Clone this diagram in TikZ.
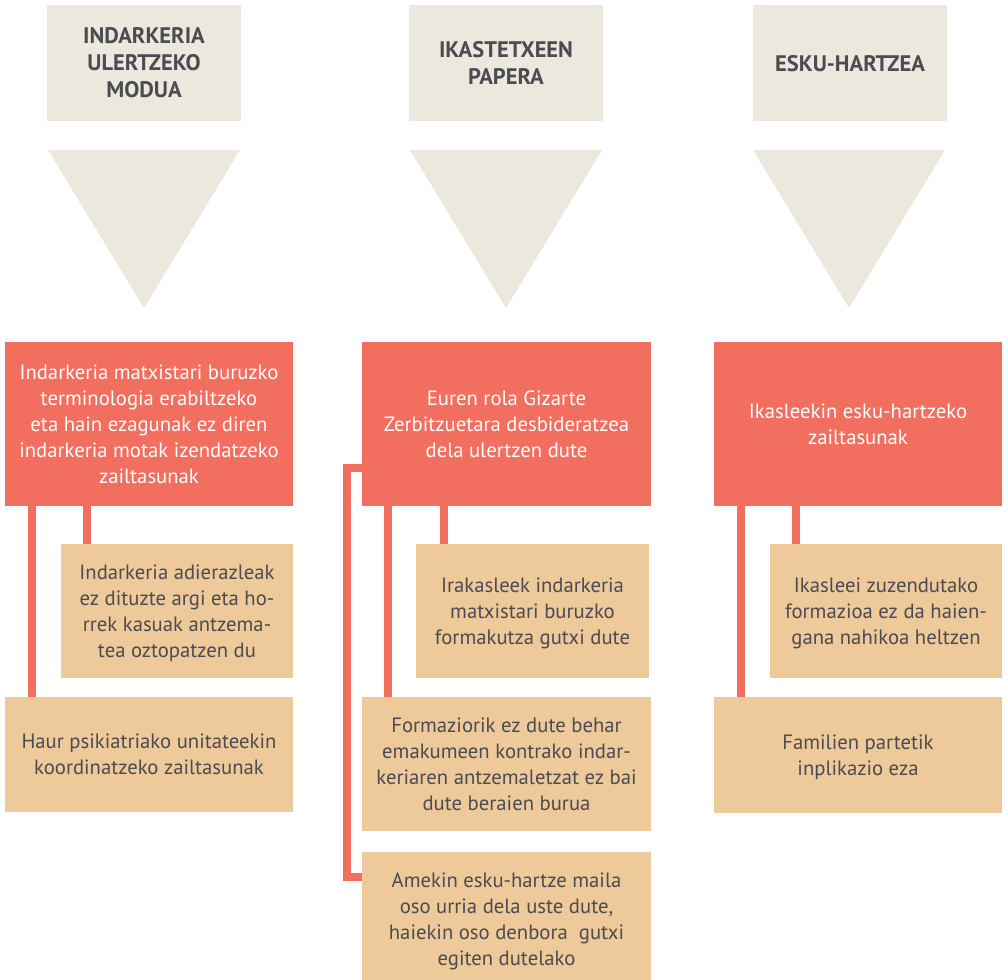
\documentclass[tikz,border=0pt]{standalone}
\usepackage{fontspec}
\setmainfont{PT Sans}
\definecolor{beige}{HTML}{EDE8DE}
\definecolor{coral}{HTML}{F26E5E}
\definecolor{sandC}{HTML}{EEC999}
\definecolor{ink}{HTML}{4B4B52}

\begin{document}
\begin{tikzpicture}[x=1pt,y=-1pt,font=\fontsize{20.7}{26}\selectfont,
  head/.style={fill=beige,text=ink,align=center,inner sep=0pt,text depth=0pt,
    minimum width=194pt,minimum height=116pt,font=\fontsize{22.5}{27}\selectfont\bfseries},
  main/.style={fill=coral,text=white,align=center,inner sep=0pt,
    minimum width=288pt,minimum height=164pt},
  sub/.style={fill=sandC,text=ink,align=center,inner sep=0pt,text depth=0pt,
    minimum width=232pt,minimum height=134pt},
  wide/.style={sub,minimum width=288pt},
  link/.style={draw=coral,line width=8pt}]
  \useasboundingbox (0,0) rectangle (1008,979);
  \node[head] (h1) at (144,63) {INDARKERIA\\ULERTZEKO\\MODUA};
  \node[head] (h2) at (506,63) {IKASTETXEEN\\PAPERA};
  \node[head] (h3) at (850,63) {ESKU-HARTZEA};
  \fill[beige] (48,150) -- (240,150) -- (144,308) -- cycle;
  \fill[beige] (410,150) -- (602,150) -- (506,308) -- cycle;
  \fill[beige] (753,150) -- (945,150) -- (849,308) -- cycle;
  \node[main] (r1) at (149,424) {Indarkeria matxistari buruzko\\terminologia erabiltzeko\\eta hain ezagunak ez diren\\indarkeria motak izendatzeko\\zailtasunak};
  \node[main,minimum width=289pt] (r2) at (506.5,424) {Euren rola Gizarte\\Zerbitzuetara desbideratzea\\dela ulertzen dute};
  \node[main] (r3) at (858,424) {Ikasleekin esku-hartzeko\\zailtasunak};
  \node[sub] (c1a) at (177,611) {Indarkeria adierazleak\\ez dituzte argi eta ho-\\rrek kasuak antzema-\\tea oztopatzen du};
  \node[wide,minimum height=115pt] (c1b) at (149,754.5) {Haur psikiatriako unitateekin\\koordinatzeko zailtasunak};
  \node[sub,minimum width=233pt] (c2a) at (532.5,611) {Irakasleek indarkeria\\matxistari buruzko\\formakutza gutxi dute};
  \node[wide,minimum width=289pt] (c2b) at (506.5,764) {Formaziorik ez dute behar\\emakumeen kontrako indar-\\keriaren antzemaletzat ez bai\\dute beraien burua};
  \node[wide,minimum width=289pt] (c2c) at (506.5,919) {Amekin esku-hartze maila\\oso urria dela uste dute,\\haiekin oso denbora\ \ gutxi\\egiten dutelako};
  \node[sub] (c3a) at (886,611) {Ikasleei zuzendutako\\formazioa ez da haien-\\gana nahikoa heltzen};
  \node[wide,minimum height=116pt] (c3b) at (858,755) {Familien partetik\\inplikazio eza};
  \draw[link] ([xshift=27pt]r1.south west) -- ([xshift=27pt]c1b.north west);
  \draw[link] ([xshift=82pt]r1.south west) -- ([xshift=26pt]c1a.north west);
  \draw[link] ([xshift=26pt]r2.south west) -- ([xshift=26pt]c2b.north west);
  \draw[link] ([xshift=82pt]r2.south west) -- ([xshift=28pt]c2a.north west);
  \draw[link] ([yshift=-44pt]r2.west) -- ++(-15,0) |- ([yshift=42pt]c2c.west);
  \draw[link] ([xshift=27pt]r3.south west) -- ([xshift=27pt]c3b.north west);
  \draw[link] ([xshift=82pt]r3.south west) -- ([xshift=26pt]c3a.north west);
\end{tikzpicture}
\end{document}
